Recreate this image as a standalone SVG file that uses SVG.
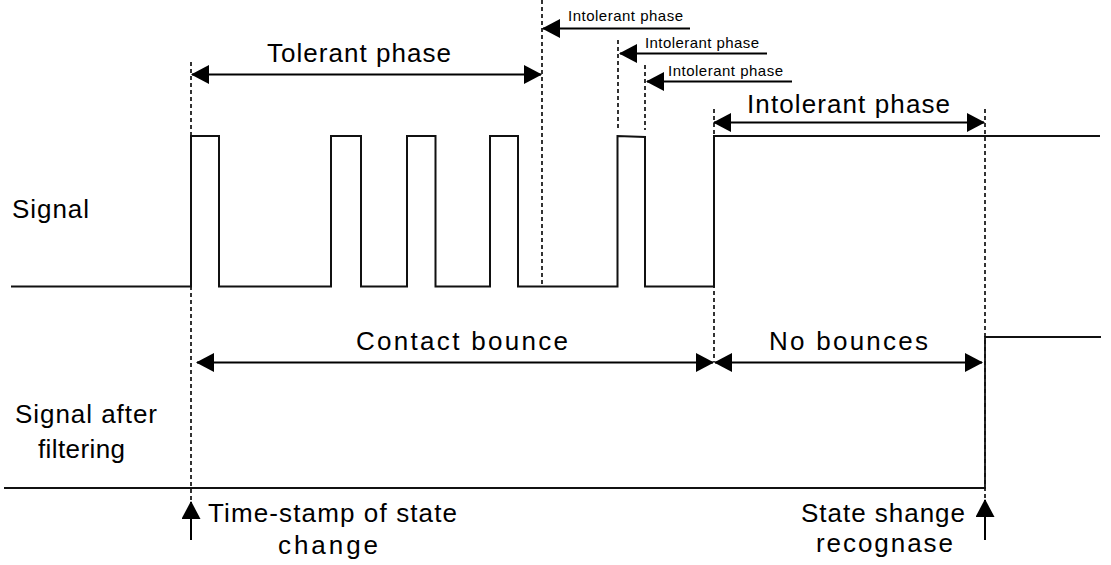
<svg xmlns="http://www.w3.org/2000/svg" width="1111" height="565" viewBox="0 0 1111 565">
<style>
text{font-family:"Liberation Sans",Arial,sans-serif;fill:#000}
.big{font-size:26px}
.small{font-size:15px}
.sig{fill:none;stroke:#111;stroke-width:2}
.dot{fill:none;stroke:#000;stroke-width:1.6;stroke-dasharray:4 3}
.arr{fill:none;stroke:#000;stroke-width:2}
</style>
<defs>
<marker id="ah" viewBox="0 0 18 19" refX="17" refY="9.5" markerWidth="18" markerHeight="19" markerUnits="userSpaceOnUse" orient="auto-start-reverse">
<path d="M0,0 L18,9.5 L0,19 z" fill="#000"/>
</marker>
</defs>
<rect width="1111" height="565" fill="#fff"/>
<g id="guides">
<line class="dot" x1="191" y1="62" x2="191" y2="500"/>
<line class="dot" x1="542" y1="0" x2="542" y2="286"/>
<line class="dot" x1="618" y1="40" x2="618" y2="130"/>
<line class="dot" x1="645" y1="65" x2="645" y2="130"/>
<line class="dot" x1="714" y1="109" x2="714" y2="362"/>
<line class="dot" x1="985" y1="109" x2="985" y2="500"/>
</g>
<g id="signal">
<path class="sig" d="M11,286.5 H191 V136 H219 V286.5 H331 V136 H361 V286.5 H407 V136 H435.5 V286.5 H490 V136 H518 V286.5 H617.5 V136 L645,137 V286.5 H714 V136 H1100"/>
</g>
<g id="filtered">
<path class="sig" style="stroke-width:1.8" d="M4,488 H985 V337 H1101"/>
</g>
<g id="connectors">
<line class="arr" x1="192" y1="74.5" x2="541" y2="74.5" marker-start="url(#ah)" marker-end="url(#ah)"/>
<line class="arr" x1="714" y1="122.5" x2="984" y2="122.5" marker-start="url(#ah)" marker-end="url(#ah)"/>
<line class="arr" x1="543" y1="28.5" x2="690" y2="28.5" marker-start="url(#ah)"/>
<line class="arr" x1="620" y1="53.5" x2="767" y2="53.5" marker-start="url(#ah)"/>
<line class="arr" x1="647" y1="81.5" x2="792" y2="81.5" marker-start="url(#ah)"/>
<line class="arr" x1="197" y1="362.5" x2="713" y2="362.5" marker-start="url(#ah)" marker-end="url(#ah)"/>
<line class="arr" x1="715" y1="362.5" x2="982" y2="362.5" marker-start="url(#ah)" marker-end="url(#ah)"/>
<line class="arr" x1="191" y1="540" x2="191" y2="502" marker-end="url(#ah)"/>
<line class="arr" x1="985" y1="540" x2="985" y2="500" marker-end="url(#ah)"/>
</g>
<g id="labels">
<text class="big" x="267" y="62" textLength="184" lengthAdjust="spacing">Tolerant phase</text>
<text class="big" x="747" y="113" textLength="203" lengthAdjust="spacing">Intolerant phase</text>
<text class="small" x="568" y="21" textLength="115" lengthAdjust="spacing">Intolerant phase</text>
<text class="small" x="645" y="48" textLength="114" lengthAdjust="spacing">Intolerant phase</text>
<text class="small" x="668" y="76" textLength="115" lengthAdjust="spacing">Intolerant phase</text>
<text class="big" x="356" y="350" textLength="212" lengthAdjust="spacing">Contact bounce</text>
<text class="big" x="769" y="350" textLength="159" lengthAdjust="spacing">No bounces</text>
<text class="big" x="12" y="218" textLength="77" lengthAdjust="spacing">Signal</text>
<text class="big" x="15" y="423" textLength="142" lengthAdjust="spacing">Signal after</text>
<text class="big" x="38" y="458" textLength="87" lengthAdjust="spacing">filtering</text>
<text class="big" x="208" y="522" textLength="249" lengthAdjust="spacing">Time-stamp of state</text>
<text class="big" x="278" y="554" textLength="100" lengthAdjust="spacing">change</text>
<text class="big" x="801" y="522" textLength="164" lengthAdjust="spacing">State shange</text>
<text class="big" x="816" y="552" textLength="137" lengthAdjust="spacing">recognase</text>
</g>
</svg>
